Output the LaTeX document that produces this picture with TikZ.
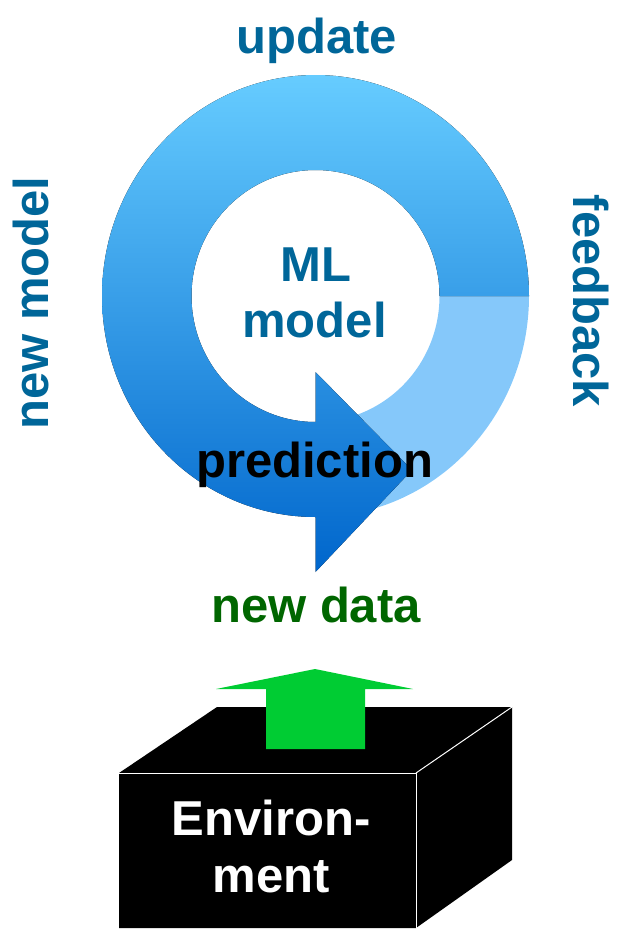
\documentclass[tikz,border=0pt]{standalone}
\usepackage{fontspec}
\setmainfont{Liberation Sans}
\definecolor{ringtop}{HTML}{66CCFF}
\definecolor{ringbot}{HTML}{0066CC}
\definecolor{lightseg}{HTML}{85C8FA}
\definecolor{lbl}{HTML}{006699}
\definecolor{datagreen}{HTML}{006600}
\definecolor{arrgreen}{HTML}{00CC33}
\begin{document}
\begin{tikzpicture}[x=1pt,y=1pt,
  lab/.style={font=\fontsize{49}{56}\selectfont\bfseries, inner sep=0pt, anchor=base},
  bluelab/.style={lab, text=lbl}]
\useasboundingbox (0,0) rectangle (631,-945);
% light segment (right lower quadrant)
\fill[lightseg] (529,-296) arc[start angle=0,end angle=-90,x radius=213.5,y radius=221]
  -- (315.5,-422) arc[start angle=270,end angle=360,x radius=124,y radius=126] -- cycle;
% main ring with arrowhead
\fill[top color=ringtop, bottom color=ringbot]
  (529,-296) arc[start angle=0,end angle=270,x radius=213.5,y radius=221]
  -- (315.5,-572) -- (412,-470) -- (315.5,-372) -- (315.5,-422)
  arc[start angle=270,end angle=0,x radius=124,y radius=126] -- cycle;
% labels
\node[bluelab] (update) at (316.5,-53) {update};
\node[bluelab] (ml) at (316,-281) {ML};
\node[bluelab] (model) at (314.5,-337) {model};
\node[bluelab, rotate=90] (newmodel) at (48,-303) {new model};
\node[bluelab, rotate=-90] (feedback) at (573,-301) {feedback};
\node[lab, text=black] (prediction) at (314.5,-477) {prediction};
\node[lab, text=datagreen] (newdata) at (316,-622) {new data};
% environment box
\fill[black] (119,-773) -- (217,-707) -- (512,-707) -- (512,-860) -- (416,-928) -- (119,-928) -- cycle;
\draw[white, line width=1pt] (119,-773) -- (416,-773) -- (416,-928);
\draw[white, line width=1pt] (416,-773) -- (512,-707);
% green arrow
\fill[arrgreen] (266,-749) -- (266,-689) -- (216,-689) -- (315,-669) -- (413,-689) -- (365,-689) -- (365,-749) -- cycle;
\node[lab, text=white] (env1) at (271,-835) {Environ-};
\node[lab, text=white] (env2) at (271.5,-892) {ment};
\end{tikzpicture}
\end{document}
